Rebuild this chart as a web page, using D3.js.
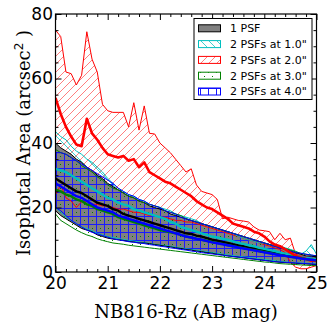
<!DOCTYPE html>
<html><head><meta charset="utf-8">
<script src="https://cdn.jsdelivr.net/npm/d3@7"></script>
<style>body{margin:0;background:#fff}svg{display:block}</style>
</head><body><svg id="c" width="332" height="325"></svg>
<script>
const mags=[20.0,20.1,20.2,20.3,20.4,20.5,20.6,20.7,20.8,20.9,21.0,21.1,21.2,21.3,21.4,21.5,21.6,21.7,21.8,21.9,22.0,22.1,22.2,22.3,22.4,22.5,22.6,22.7,22.8,22.9,23.0,23.1,23.2,23.3,23.4,23.5,23.6,23.7,23.8,23.9,24.0,24.1,24.2,24.3,24.4,24.5,24.6,24.7,24.8,24.9,25.0];

const psf1Hi=[40,38.5,37.5,36.5,35,34,32.5,31.5,30,29,27.5,26.5,25.5,24.5,23.5,23,22,21.5,20.5,20,19.5,19,18,17.5,17,16.5,16,15.5,15,14.5,14,13.5,13,12.5,12,11.5,11,10.5,10,9.5,9,8.5,8,7.5,7,6.5,6,5.5,5,5,4.5];
const psf1Med=[29,28,27,26,25,24.5,23.5,22.5,21.5,21,20.5,19.5,19,18,17.5,17,16.5,16,15.5,15,14.5,14,13.5,13,12.5,12,11.8,11.3,11,10.5,10,9.7,9.3,9,8.6,8.3,8,7.6,7.3,7,6.6,6.3,6,5.7,5.4,5.1,4.8,4.5,4.2,4,3.8];
const psf1Lo=[19,17.5,16.5,15.5,14.5,13.5,13,12.5,11.5,11,10.5,10.2,10,9.8,9.5,9.3,9,9,8.8,8.5,8.3,8,7.8,7.5,7.3,7,6.8,6.5,6.3,6,5.8,5.5,5.3,5,4.8,4.6,4.4,4.2,4,3.8,3.6,3.4,3.2,3,2.9,2.8,2.7,2.6,2.5,2.4,2.3];

const sep10Hi=[43.5,42,41,39,37.5,36.5,35,34,32.5,31,29,27.5,26,25,24,23.5,22.5,22,21,20.5,20,19.5,19,18,17.5,17,16.5,16,15,14.5,14,13.5,13,12.5,12,11,10.5,10,9.5,9,9,8.5,8,8,7.5,7,6.5,5.5,6.5,8.5,5.5];
const sep10Med=[32,31.5,31,30,29,28,27,26,25,24,23,22.5,21.5,21,20.5,19.5,19,18.5,18,17.5,17,16.5,15.5,15,14,13.5,13,12.5,12,11.5,11,10.7,10.3,10,9.5,9,8.7,8.3,8,7.5,7.2,6.8,6.5,6,5.7,5.3,5,4.7,4.4,4.2,4];
const sep10Lo=[20,18.5,17,16,15,14,13.5,12.8,12,11.5,11,10.7,10.4,10.1,9.8,9.6,9.3,9.1,8.9,8.6,8.4,8.2,8,7.7,7.5,7.2,7,6.8,6.5,6.3,6,5.8,5.5,5.3,5.1,4.9,4.7,4.5,4.3,4.1,3.9,3.7,3.5,3.3,3.1,3,2.9,2.8,2.7,2.6,2.5];

const sep20Hi=[75,73,62,61.5,58,61,74.5,66,62,52,50,49.5,49.5,49.5,45,52.5,44,51.5,43,42.8,40,38.5,37,35,33,31,32,27,25,24.5,24,22.5,16.5,17,16.5,16,15.8,15.5,14,13,12.8,12.5,10,12,10,10.5,5.5,5,4.8,4.5,4.2];
const sep20Med=[54,49,45,42,39.5,39,47.5,43,41,38.5,36.5,36,35.5,36,34.5,35,32.5,34,31,30,29,28,27.5,26.5,25.5,24.5,23.5,22,21,20,19.5,18.5,17.5,16.5,15,14.5,14,13.5,12.5,12,11,9.5,8.5,8,7,6,5,4.5,4,3.5,3.5];
const sep20Lo=[24,27,23,22,20,21.8,22,21,21,20.5,20.5,20,19.5,19.5,19,18.5,18.5,18,17.5,17.5,17,17,16.5,16,16,15.5,15.5,15,14.5,14,13.5,13,12.5,12,11.5,11,10.5,10,9.5,9,8.5,8,7.5,7,6,3,1.5,1,1,1.5,2];

const sep30Hi=[38,37,36.5,35.5,34.5,33,32,31,29.5,28.5,27,26,25.5,24.5,23.5,23,22,21.5,21,20.5,20,19,18.5,18,17.5,16.5,16,15.5,15,14.5,14,13.5,13,12.5,12,11.5,11,10.5,10,9.5,9,8.5,8.3,7.8,7.3,6.8,6.3,5.8,5.5,5.2,5];
const sep30Med=[25.5,25,24,23.5,22.5,22,21,20.5,19.5,19,18.5,18,17,16.5,16,15.5,15,14.5,14,13.5,13,12.7,12.3,12,11.5,11,10.7,10.3,10,9.7,9.3,9,8.7,8.3,8,7.7,7.4,7.1,6.8,6.5,6.2,5.9,5.6,5.3,5,4.8,4.5,4.3,4,3.8,3.6];
const sep30Lo=[18,16,15,14,13,12.2,11.5,11,10.3,9.8,9.4,9,8.8,8.6,8.3,8.1,7.9,7.7,7.5,7.3,7.1,6.9,6.7,6.5,6.3,6.1,5.9,5.7,5.5,5.3,5.1,4.9,4.7,4.5,4.3,4.1,3.9,3.7,3.5,3.3,3.1,3,2.8,2.6,2.5,2.4,2.3,2.2,2.1,2,2];

const sep40Hi=[37,37,36.5,35.5,34.5,33.5,32.5,31.5,30.5,29.5,28.5,27.5,26,25,24,23.5,22.5,22,21,20.5,20,19,18.5,18,17,16.5,16,15.5,15,14.5,14,13.5,13,12.5,12,11.5,11,10.5,10,9.5,9,8.5,8,7.5,7,6.5,6,5.8,5.5,5.3,5];
const sep40Med=[27.5,26.5,25.5,24.5,23.5,23,22,21,20,19.5,19,18.5,17.5,17,16.5,16,15.5,15,14.5,14,13.5,13,12.5,12,11.5,11,10.7,10.3,10,9.6,9.2,8.9,8.6,8.3,8,7.6,7.3,7,6.7,6.4,6.1,5.8,5.5,5.2,5,4.7,4.5,4.2,4,3.8,3.6];
const sep40Lo=[20,19,17.5,16,15,14,13,12.3,11.8,11.3,10.8,10.3,10,9.7,9.4,9.2,9,8.8,8.5,8.3,8,7.8,7.5,7.3,7,6.8,6.5,6.3,6,5.8,5.6,5.4,5.2,5,4.8,4.6,4.4,4.2,4,3.8,3.6,3.4,3.2,3.1,3,2.9,2.8,2.7,2.6,2.5,2.4];

const seriesNames=["1 PSF",'2 PSFs at 1.0"','2 PSFs at 2.0"','2 PSFs at 3.0"','2 PSFs at 4.0"'];
const xTicks=[20,21,22,23,24,25];
const yTicks=[0,20,40,60,80];
const xLabel="NB816-Rz (AB mag)";
const yLabel="Isophotal Area (arcsec";

const svg=d3.select("#c");
const M={l:55.5,r:316.5,t:14,b:272};
const x=d3.scaleLinear().domain([20,25]).range([M.l,M.r]);
const y=d3.scaleLinear().domain([0,80]).range([M.b,M.t]);
const defs=svg.append("defs");
defs.append("clipPath").attr("id","clip").append("rect")
  .attr("x",M.l).attr("y",M.t).attr("width",M.r-M.l).attr("height",M.b-M.t);

const SP=8;
function hatch(g,kind,color,box){
  const [x0,y0,x1,y1]=box, h=g.append("g").attr("stroke",color).attr("fill",color).attr("stroke-width",1);
  if(kind==="/"){ for(let c=Math.floor((x0+y0)/SP)*SP;c<=x1+y1;c+=SP)
      h.append("line").attr("x1",c-y1).attr("y1",y1).attr("x2",c-y0).attr("y2",y0); }
  if(kind==="\\"){ for(let c=Math.floor((x0-y1)/SP)*SP;c<=x1-y0;c+=SP)
      h.append("line").attr("x1",c+y0).attr("y1",y0).attr("x2",c+y1).attr("y2",y1); }
  if(kind==="+"){ h.attr("shape-rendering","crispEdges");
    for(let a=Math.floor(x0/SP)*SP+0.5;a<=x1;a+=SP)
      h.append("line").attr("x1",a).attr("y1",y0).attr("x2",a).attr("y2",y1);
    for(let b=Math.floor(y0/SP)*SP+0.5;b<=y1;b+=SP)
      h.append("line").attr("x1",x0).attr("y1",b).attr("x2",x1).attr("y2",b); }
  if(kind==="."){ h.attr("shape-rendering","crispEdges");
    for(let a=Math.floor(x0/SP)*SP;a<=x1;a+=SP/2) for(let b=Math.floor(y0/SP)*SP;b<=y1;b+=SP){
      const off=(Math.round(a/(SP/2))%2)*(SP/2);
      h.append("rect").attr("x",a).attr("y",b+off).attr("width",1).attr("height",1).attr("stroke","none"); } }
}

const idx=d3.range(mags.length);
const area=(lo,hi)=>d3.area().x(i=>x(mags[i])).y0(i=>y(lo[i])).y1(i=>y(hi[i]))(idx);
const line=(v)=>d3.line().x(i=>x(mags[i])).y(i=>y(v[i]))(idx);

const plot=svg.append("g").attr("clip-path","url(#clip)");
const S=[
 {id:"r",lo:sep20Lo,hi:sep20Hi,med:sep20Med,k:"/",hc:"#ff7f7f",c:"#ff0000"},
 {id:"c",lo:sep10Lo,hi:sep10Hi,med:sep10Med,k:"\\",hc:"#40d0d0",c:"#00bfbf"},
 {id:"k",lo:psf1Lo,hi:psf1Hi,med:psf1Med,k:null,c:"#000000"},
 {id:"g",lo:sep30Lo,hi:sep30Hi,med:sep30Med,k:".",hc:"#008000",c:"#008000"},
 {id:"b",lo:sep40Lo,hi:sep40Hi,med:sep40Med,k:"+",hc:"#1a1aff",c:"#0000ff"}
];
const PB=[M.l,M.t,M.r,M.b];
S.forEach(s=>{
  const d=area(s.lo,s.hi);
  if(!s.k){ plot.append("path").attr("d",d).attr("fill","#808080").attr("stroke","none"); return; }
  defs.append("clipPath").attr("id","a"+s.id).append("path").attr("d",d);
  hatch(plot.append("g").attr("clip-path",`url(#a${s.id})`),s.k,s.hc,PB);
});
S.forEach(s=>{
  [s.lo,s.hi].forEach(v=>plot.append("path").attr("d",line(v)).attr("fill","none")
    .attr("stroke",s.c).attr("stroke-width",1));
});
[S[2],S[1],S[0],S[3],S[4]].forEach(s=>{
  plot.append("path").attr("d",line(s.med)).attr("fill","none")
    .attr("stroke",s.c).attr("stroke-width",s.c==="#ff0000"?2.6:2.4).attr("stroke-linejoin","round");
});

// axes
const font="DejaVu Sans, sans-serif";
const xMinor=d3.range(20,25.01,0.2).filter(v=>Math.abs(v-Math.round(v))>0.01);
const yMinor=d3.range(0,80.1,5).filter(v=>v%20!==0);
function styleAx(g){g.select(".domain").remove();g.selectAll("line").attr("stroke","#000").attr("stroke-width",1);
  g.selectAll("text").attr("font-family",font).attr("font-size",17).attr("fill","#000");}
svg.append("g").attr("transform",`translate(0,${M.b})`)
  .call(d3.axisBottom(x).tickValues(xTicks).tickSize(-6).tickPadding(5).tickFormat(d3.format("d"))).call(styleAx);
svg.append("g").attr("transform",`translate(0,${M.b})`)
  .call(d3.axisBottom(x).tickValues(xMinor).tickSize(-3).tickFormat("")).call(styleAx);
svg.append("g").attr("transform",`translate(0,${M.t})`)
  .call(d3.axisTop(x).tickValues(xTicks).tickSize(-6).tickFormat("")).call(styleAx);
svg.append("g").attr("transform",`translate(0,${M.t})`)
  .call(d3.axisTop(x).tickValues(xMinor).tickSize(-3).tickFormat("")).call(styleAx);
svg.append("g").attr("transform",`translate(${M.l},0)`)
  .call(d3.axisLeft(y).tickValues(yTicks).tickSize(-6).tickPadding(2.5).tickFormat(d3.format("d"))).call(styleAx);
svg.append("g").attr("transform",`translate(${M.l},0)`)
  .call(d3.axisLeft(y).tickValues(yMinor).tickSize(-3).tickFormat("")).call(styleAx);
svg.append("g").attr("transform",`translate(${M.r},0)`)
  .call(d3.axisRight(y).tickValues(yTicks).tickSize(-6).tickFormat("")).call(styleAx);
svg.append("g").attr("transform",`translate(${M.r},0)`)
  .call(d3.axisRight(y).tickValues(yMinor).tickSize(-3).tickFormat("")).call(styleAx);
svg.append("rect").attr("x",M.l).attr("y",M.t).attr("width",M.r-M.l).attr("height",M.b-M.t)
  .attr("fill","none").attr("stroke","#000").attr("stroke-width",1.2);

// labels
const serif="DejaVu Serif, serif";
svg.append("text").attr("x",(M.l+M.r)/2).attr("y",318).attr("text-anchor","middle")
  .attr("font-family",serif).attr("font-size",18).text(xLabel);
const yl=svg.append("text").attr("transform",`translate(30,${(M.t+M.b)/2}) rotate(-90)`)
  .attr("text-anchor","middle").attr("font-family",serif).attr("font-size",18);
yl.append("tspan").text(yLabel);
yl.append("tspan").attr("font-family",font).attr("font-size",12).attr("dy",-7).text("2");
yl.append("tspan").attr("dy",7).text(" )");

// legend
const lg=svg.append("g");
lg.append("rect").attr("x",194).attr("y",18.5).attr("width",118).attr("height",81)
  .attr("fill","#fff").attr("stroke","#000").attr("stroke-width",1);
const legKind=[null,"\\","/",".","+"], legCol=["#000","#00bfbf","#ff0000","#008000","#0000ff"];
const legHc=[null,"#40d0d0","#ff7f7f","#008000","#1a1aff"];
seriesNames.forEach((n,i)=>{
  const cy=28.3+i*15.8, bx=[198.5,cy-3.5,220.5,cy+3.5];
  if(legKind[i]){
    defs.append("clipPath").attr("id","lg"+i).append("rect").attr("x",bx[0]).attr("y",bx[1]).attr("width",22).attr("height",7);
    hatch(lg.append("g").attr("clip-path",`url(#lg${i})`),legKind[i],legHc[i],bx);
  }
  lg.append("rect").attr("x",198.5).attr("y",cy-3.5).attr("width",22).attr("height",7)
    .attr("fill",i===0?"#808080":"none").attr("stroke",legCol[i]).attr("stroke-width",1);
  lg.append("text").attr("x",230).attr("y",cy).attr("dy","0.36em")
    .attr("font-family",font).attr("font-size",11).text(n);
});
</script></body></html>
